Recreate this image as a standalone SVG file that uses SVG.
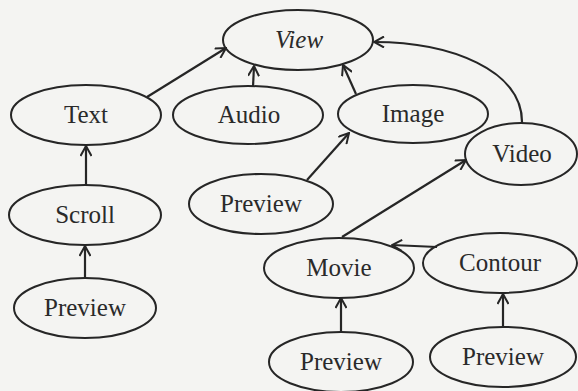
<svg xmlns="http://www.w3.org/2000/svg" width="578" height="391" viewBox="0 0 578 391">
<defs>
<marker id="arr" viewBox="0 0 12 12" refX="11" refY="6" markerWidth="12" markerHeight="12" markerUnits="userSpaceOnUse" orient="auto">
<path d="M1,0.5 L11,6 L1,11.5" fill="none" stroke="#262626" stroke-width="2"/>
</marker>
<style>
ellipse{fill:none;stroke:#262626;stroke-width:2}
text{font-size:25px;fill:#2a2a2a;text-anchor:middle}
.e path{fill:none;stroke:#262626;stroke-width:2.2;marker-end:url(#arr)}
</style>
</defs>
<rect width="578" height="391" fill="#f4f4f2"/>
<g class="e" id="connectors">
<path d="M147,97 L226,48"/>
<path d="M253,87 L254,66"/>
<path d="M356,94 L343,65"/>
<path d="M522,123 C523,70 450,42 374,42"/>
<path d="M307,180 L349,133"/>
<path d="M342,237 L466,160"/>
<path d="M437,247 L392,245"/>
<path d="M341,333 L341,298"/>
<path d="M503,328 L503,294"/>
<path d="M86,185 L86,146"/>
<path d="M85,278 L85,246"/>
</g>
<g font-family="Liberation Serif, serif">
<g id="view"><ellipse cx="298" cy="40" rx="75" ry="30"/><text x="299" y="48" font-style="italic">View</text></g>
<g id="text"><ellipse cx="86" cy="115" rx="75" ry="30"/><text x="86" y="123">Text</text></g>
<g id="audio"><ellipse cx="248" cy="115" rx="75" ry="29"/><text x="249" y="123">Audio</text></g>
<g id="image"><ellipse cx="413" cy="114" rx="75" ry="29"/><text x="413" y="122">Image</text></g>
<g id="video"><ellipse cx="521" cy="154" rx="56" ry="31"/><text x="522" y="162">Video</text></g>
<g id="scroll"><ellipse cx="85" cy="215" rx="76" ry="30"/><text x="85" y="223">Scroll</text></g>
<g id="preview1"><ellipse cx="85" cy="308" rx="71" ry="30"/><text x="85" y="316">Preview</text></g>
<g id="preview2"><ellipse cx="261" cy="204" rx="72" ry="30"/><text x="261" y="212">Preview</text></g>
<g id="movie"><ellipse cx="339" cy="268" rx="75" ry="30"/><text x="339" y="276">Movie</text></g>
<g id="contour"><ellipse cx="500" cy="263" rx="77" ry="30"/><text x="500" y="271">Contour</text></g>
<g id="preview3"><ellipse cx="341" cy="362" rx="72" ry="30"/><text x="341" y="370">Preview</text></g>
<g id="preview4"><ellipse cx="503" cy="357" rx="73" ry="30"/><text x="503" y="365">Preview</text></g>
</g>
</svg>
